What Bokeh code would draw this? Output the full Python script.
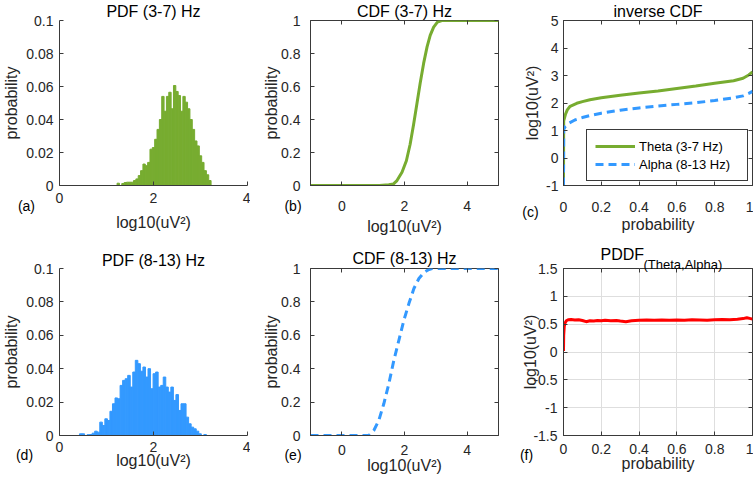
import numpy as np
from bokeh.plotting import figure
from bokeh.layouts import gridplot
from bokeh.models import FixedTicker, LinearAxis, Range1d, Legend, LegendItem, Title
from bokeh.embed import file_html
from bokeh.resources import INLINE

FONT = "Liberation Sans"
INK = "#262626"
FRAME = "#3a3a3a"
BLACK = "#000000"
GREEN = "#77AC30"
BLUE = "#3399FF"
RED = "#FF0000"
NBSP = "\u00a0"

# ---------------- data ----------------
theta_bin_start = 1.225
theta_bin_width = 0.05
theta_prob = [0.0014, 0, 0.0012, 0.0018, 0.002, 0.002, 0.002, 0.003, 0.004, 0.006,
              0.009, 0.013, 0.012, 0.014, 0.022, 0.023, 0.028, 0.034, 0.040, 0.054,
              0.045, 0.054, 0.0565, 0.0465, 0.0606, 0.057, 0.0545, 0.045, 0.054, 0.0505,
              0.0465, 0.040, 0.034, 0.027, 0.024, 0.018, 0.014, 0.009, 0.0065, 0.003]

alpha_bin_start = 0.425
alpha_bin_width = 0.054
alpha_prob = [0.001, 0.001, 0, 0.0005, 0.0006, 0.0014, 0.0026, 0.002, 0.008, 0.006,
              0.010, 0.009, 0.0145, 0.019, 0.0225, 0.022, 0.030, 0.033, 0.034, 0.036,
              0.029, 0.038, 0.045, 0.043, 0.0385, 0.041, 0.035, 0.040, 0.028, 0.037,
              0.038, 0.029, 0.030, 0.035, 0.029, 0.026, 0.029, 0.021, 0.0245, 0.015,
              0.019, 0.019, 0.011, 0.007, 0.005, 0.004, 0.0026, 0.001, 0, 0.0006]

theta_cdf_x = [-1, 1.2, 1.5, 1.65, 1.76, 1.92, 2.06, 2.18, 2.29, 2.40, 2.50, 2.61, 2.72, 2.82, 2.93, 3.05, 3.19, 5]
theta_cdf_y = [0, 0, 0.004, 0.01, 0.03, 0.08, 0.15, 0.25, 0.37, 0.50, 0.62, 0.74, 0.84, 0.91, 0.96, 0.99, 1.0, 1.0]

alpha_cdf_x = [-1, 0.86, 1.02, 1.18, 1.34, 1.50, 1.66, 1.82, 1.98, 2.14, 2.30, 2.46, 2.62, 2.78, 2.88, 5]
alpha_cdf_y = [0, 0, 0.03, 0.09, 0.19, 0.31, 0.45, 0.57, 0.69, 0.79, 0.88, 0.94, 0.976, 0.994, 1.0, 1.0]

theta_inv_p = [0, 0.001, 0.005, 0.01, 0.02, 0.035, 0.07, 0.1, 0.14, 0.2, 0.3, 0.4, 0.5, 0.6, 0.7, 0.8, 0.9, 0.95, 0.98, 1.0]
theta_inv_y = [-1, 1.35, 1.45, 1.58, 1.75, 1.88, 1.99, 2.05, 2.12, 2.19, 2.28, 2.36, 2.44, 2.53, 2.62, 2.72, 2.81, 2.90, 3.02, 3.13]

alpha_inv_p = [0, 0.001, 0.01, 0.03, 0.06, 0.1, 0.15, 0.2, 0.3, 0.4, 0.5, 0.6, 0.7, 0.8, 0.9, 0.95, 0.98, 1.0]
alpha_inv_y = [-1, 1.05, 1.15, 1.27, 1.38, 1.47, 1.56, 1.63, 1.74, 1.82, 1.89, 1.95, 2.01, 2.09, 2.19, 2.26, 2.35, 2.42]

pddf_p = [0, 0.001, 0.004, 0.008, 0.015, 0.025, 0.04, 0.06, 0.08, 0.1,
          0.12, 0.14, 0.16, 0.18, 0.2, 0.22, 0.25, 0.28, 0.3, 0.33,
          0.36, 0.4, 0.44, 0.48, 0.52, 0.56, 0.6, 0.64, 0.68, 0.72,
          0.76, 0.8, 0.84, 0.88, 0.92, 0.95, 0.97, 0.99, 1.0]
pddf_y = [0.02, 0.30, 0.46, 0.52, 0.56, 0.58, 0.585, 0.575, 0.58, 0.565,
          0.545, 0.56, 0.555, 0.565, 0.56, 0.57, 0.56, 0.565, 0.555, 0.545,
          0.56, 0.57, 0.575, 0.57, 0.575, 0.57, 0.575, 0.57, 0.58, 0.575,
          0.57, 0.58, 0.585, 0.58, 0.59, 0.60, 0.615, 0.60, 0.59]

hist_xticks = [0, 2, 4]
hist_xlabels = ["0", "2", "4"]
hist_yticks = [0, 0.02, 0.04, 0.06, 0.08, 0.1]
hist_ylabels = ["0", "0.02", "0.04", "0.06", "0.08", "0.1"]
cdf_xticks = [0, 2, 4]
cdf_xlabels = ["0", "2", "4"]
cdf_yticks = [0, 0.2, 0.4, 0.6, 0.8, 1]
cdf_ylabels = ["0", "0.2", "0.4", "0.6", "0.8", "1"]
prob_ticks = [0, 0.2, 0.4, 0.6, 0.8, 1]
prob_labels = ["0", "0.2", "0.4", "0.6", "0.8", "1"]
inv_yticks = [-1, 0, 1, 2, 3, 4, 5]
inv_ylabels = ["-1", "0", "1", "2", "3", "4", "5"]
pddf_yticks = [-1.5, -1, -0.5, 0, 0.5, 1, 1.5]
pddf_ylabels = ["-1.5", "-1", "-0.5", "0", "0.5", "1", "1.5"]

XLAB = "log10(uV\u00b2)"


def make_fig(w, h, bl, br, bt, bb, xr, yr):
    p = figure(width=w, height=h, x_range=Range1d(*xr), y_range=Range1d(*yr),
               output_backend="svg", toolbar_location=None, tools="")
    p.min_border_left = bl
    p.min_border_right = br
    p.min_border_top = bt
    p.min_border_bottom = bb
    p.xgrid.visible = False
    p.ygrid.visible = False
    p.outline_line_color = None
    p.background_fill_color = "white"
    p.border_fill_color = "white"
    return p


def style_axis(ax, ticks, labels, standoff, label=None, label_standoff=3):
    ax.ticker = FixedTicker(ticks=ticks)
    ax.major_label_overrides = dict(zip(ticks, labels))
    ax.major_tick_in = 4
    ax.major_tick_out = 0
    ax.minor_tick_in = 0
    ax.minor_tick_out = 0
    ax.axis_line_color = FRAME
    ax.axis_line_width = 1
    ax.major_tick_line_color = FRAME
    ax.major_label_text_font = FONT
    ax.major_label_text_font_size = "14px"
    ax.major_label_text_color = INK
    ax.major_label_standoff = standoff
    if label:
        ax.axis_label = label
        ax.axis_label_text_font = FONT
        ax.axis_label_text_font_size = "16px"
        ax.axis_label_text_font_style = "normal"
        ax.axis_label_text_color = INK
        ax.axis_label_standoff = label_standoff


def add_box(p, xticks, yticks):
    for loc, ticks in (("right", yticks), ("above", xticks)):
        ax = LinearAxis(ticker=FixedTicker(ticks=ticks))
        ax.major_label_overrides = {t: "" for t in ticks}
        ax.major_label_text_font_size = "0px"
        ax.major_label_standoff = 0
        ax.major_tick_in = 4
        ax.major_tick_out = 0
        ax.minor_tick_in = 0
        ax.minor_tick_out = 0
        ax.major_tick_line_color = FRAME
        ax.axis_line_color = None
        p.add_layout(ax, loc)
    p.outline_line_color = FRAME
    p.outline_line_alpha = 1
    p.outline_line_width = 1


def set_title(p, text, standoff, align="center", offset=0):
    p.title.text = text
    p.title.align = align
    p.title.offset = offset
    p.title.standoff = standoff
    p.title.text_font = FONT
    p.title.text_font_size = "16px"
    p.title.text_font_style = "normal"
    p.title.text_color = BLACK


def add_letter(p, text, pad, standoff):
    # panel letter: an extra label-only axis below, anchored at the frame's left edge
    x0 = p.x_range.start
    ax = LinearAxis(ticker=FixedTicker(ticks=[x0]))
    ax.major_label_overrides = {x0: text + NBSP * pad}
    ax.axis_line_color = None
    ax.major_tick_line_color = None
    ax.major_tick_in = 0
    ax.major_tick_out = 0
    ax.minor_tick_in = 0
    ax.minor_tick_out = 0
    ax.major_label_standoff = standoff
    ax.major_label_text_font = FONT
    ax.major_label_text_font_size = "14px"
    ax.major_label_text_color = BLACK
    p.add_layout(ax, "below")


# (a) PDF theta
pa = make_fig(250, 240, 54, 3, 20, 55, (0, 4), (0, 0.1))
t_left = theta_bin_start + theta_bin_width * np.arange(len(theta_prob))
pa.quad(left=t_left, right=t_left + theta_bin_width, bottom=0, top=theta_prob,
        fill_color=GREEN, line_color=GREEN, line_width=1)
style_axis(pa.xaxis[0], hist_xticks, hist_xlabels, 7, XLAB, 8)
style_axis(pa.yaxis[0], hist_yticks, hist_ylabels, 6, "probability", 3)
set_title(pa, "PDF (3-7) Hz", 1)
add_letter(pa, "(a)", 17, -36)

# (b) CDF theta
pb = make_fig(250, 240, 60, 2, 20, 55, (-1, 5), (0, 1))
pb.line(theta_cdf_x, theta_cdf_y, line_color=GREEN, line_width=3)
style_axis(pb.xaxis[0], cdf_xticks, cdf_xlabels, 15, XLAB, 4)
style_axis(pb.yaxis[0], cdf_yticks, cdf_ylabels, 10, "probability", -2)
add_box(pb, cdf_xticks, cdf_yticks)
set_title(pb, "CDF (3-7) Hz", 1)
add_letter(pb, "(b)", 9, -40)

# (c) inverse CDF
pc = make_fig(253, 240, 62, 1, 20, 55, (0, 1), (-1, 5))
r1 = pc.line(theta_inv_p, theta_inv_y, line_color=GREEN, line_width=3)
r2 = pc.line(alpha_inv_p, alpha_inv_y, line_color=BLUE, line_width=3, line_dash="8 5")
style_axis(pc.xaxis[0], prob_ticks, prob_labels, 16, "probability", 1)
style_axis(pc.yaxis[0], inv_yticks, inv_ylabels, 5, XLAB, 2)
add_box(pc, prob_ticks, inv_yticks)
legend = Legend(items=[LegendItem(label="Theta (3-7 Hz)", renderers=[r1]),
                       LegendItem(label="Alpha (8-13 Hz)", renderers=[r2])],
                location="bottom_right")
legend.label_text_font = FONT
legend.label_text_font_size = "13px"
legend.label_text_color = BLACK
legend.border_line_color = FRAME
legend.border_line_width = 1
legend.border_line_alpha = 1
legend.background_fill_alpha = 1
legend.padding = 8
legend.spacing = 2
legend.margin = 4
legend.glyph_width = 40
legend.glyph_height = 16
legend.label_height = 16
legend.label_width = 100
legend.label_standoff = 4
pc.add_layout(legend)
set_title(pc, "inverse CDF", 1)
add_letter(pc, "(c)", 17, -32)

# (d) PDF alpha
pd_ = make_fig(250, 241, 58, 3, 28, 46, (0, 4), (0, 0.1))
a_left = alpha_bin_start + alpha_bin_width * np.arange(len(alpha_prob))
pd_.quad(left=a_left, right=a_left + alpha_bin_width, bottom=0, top=alpha_prob,
         fill_color=BLUE, line_color=BLUE, line_width=1)
style_axis(pd_.xaxis[0], hist_xticks, hist_xlabels, 6, XLAB, -3)
style_axis(pd_.yaxis[0], hist_yticks, hist_ylabels, 6, "probability", 3)
set_title(pd_, "PDF (8-13) Hz", 0)
add_letter(pd_, "(d)", 18, -25)

# (e) CDF alpha
pe = make_fig(250, 241, 60, 2, 28, 46, (-1, 5), (0, 1))
pe.line(alpha_cdf_x, alpha_cdf_y, line_color=BLUE, line_width=3, line_dash="8 5")
style_axis(pe.xaxis[0], cdf_xticks, cdf_xlabels, 9, XLAB, -1)
style_axis(pe.yaxis[0], cdf_yticks, cdf_ylabels, 10, "probability", -2)
add_box(pe, cdf_xticks, cdf_yticks)
set_title(pe, "CDF (8-13) Hz", 3)
add_letter(pe, "(e)", 9, -30)

# (f) PDDF
pf = make_fig(253, 241, 63, 1, 27, 45, (0, 1), (-1.5, 1.5))
pf.xgrid.visible = True
pf.ygrid.visible = True
pf.xgrid.ticker = FixedTicker(ticks=prob_ticks)
pf.ygrid.ticker = FixedTicker(ticks=pddf_yticks)
pf.xgrid.grid_line_color = "#dedede"
pf.ygrid.grid_line_color = "#dedede"
pf.line(pddf_p, pddf_y, line_color=RED, line_width=3)
style_axis(pf.xaxis[0], prob_ticks, prob_labels, 8, "probability", -2)
style_axis(pf.yaxis[0], pddf_yticks, pddf_ylabels, 6, XLAB, -9)
add_box(pf, prob_ticks, pddf_yticks)
sub = Title(text="(Theta,Alpha)", align="left", offset=80, standoff=-6,
            text_font=FONT, text_font_size="13px", text_font_style="normal", text_color=BLACK)
pf.add_layout(sub, "above")
set_title(pf, "PDDF", -10, align="left", offset=37)
add_letter(pf, "(f)", 19, -28)

grid = gridplot([[pa, pb, pc], [pd_, pe, pf]], toolbar_location=None)

open("out.html", "w").write(file_html(grid, INLINE))
